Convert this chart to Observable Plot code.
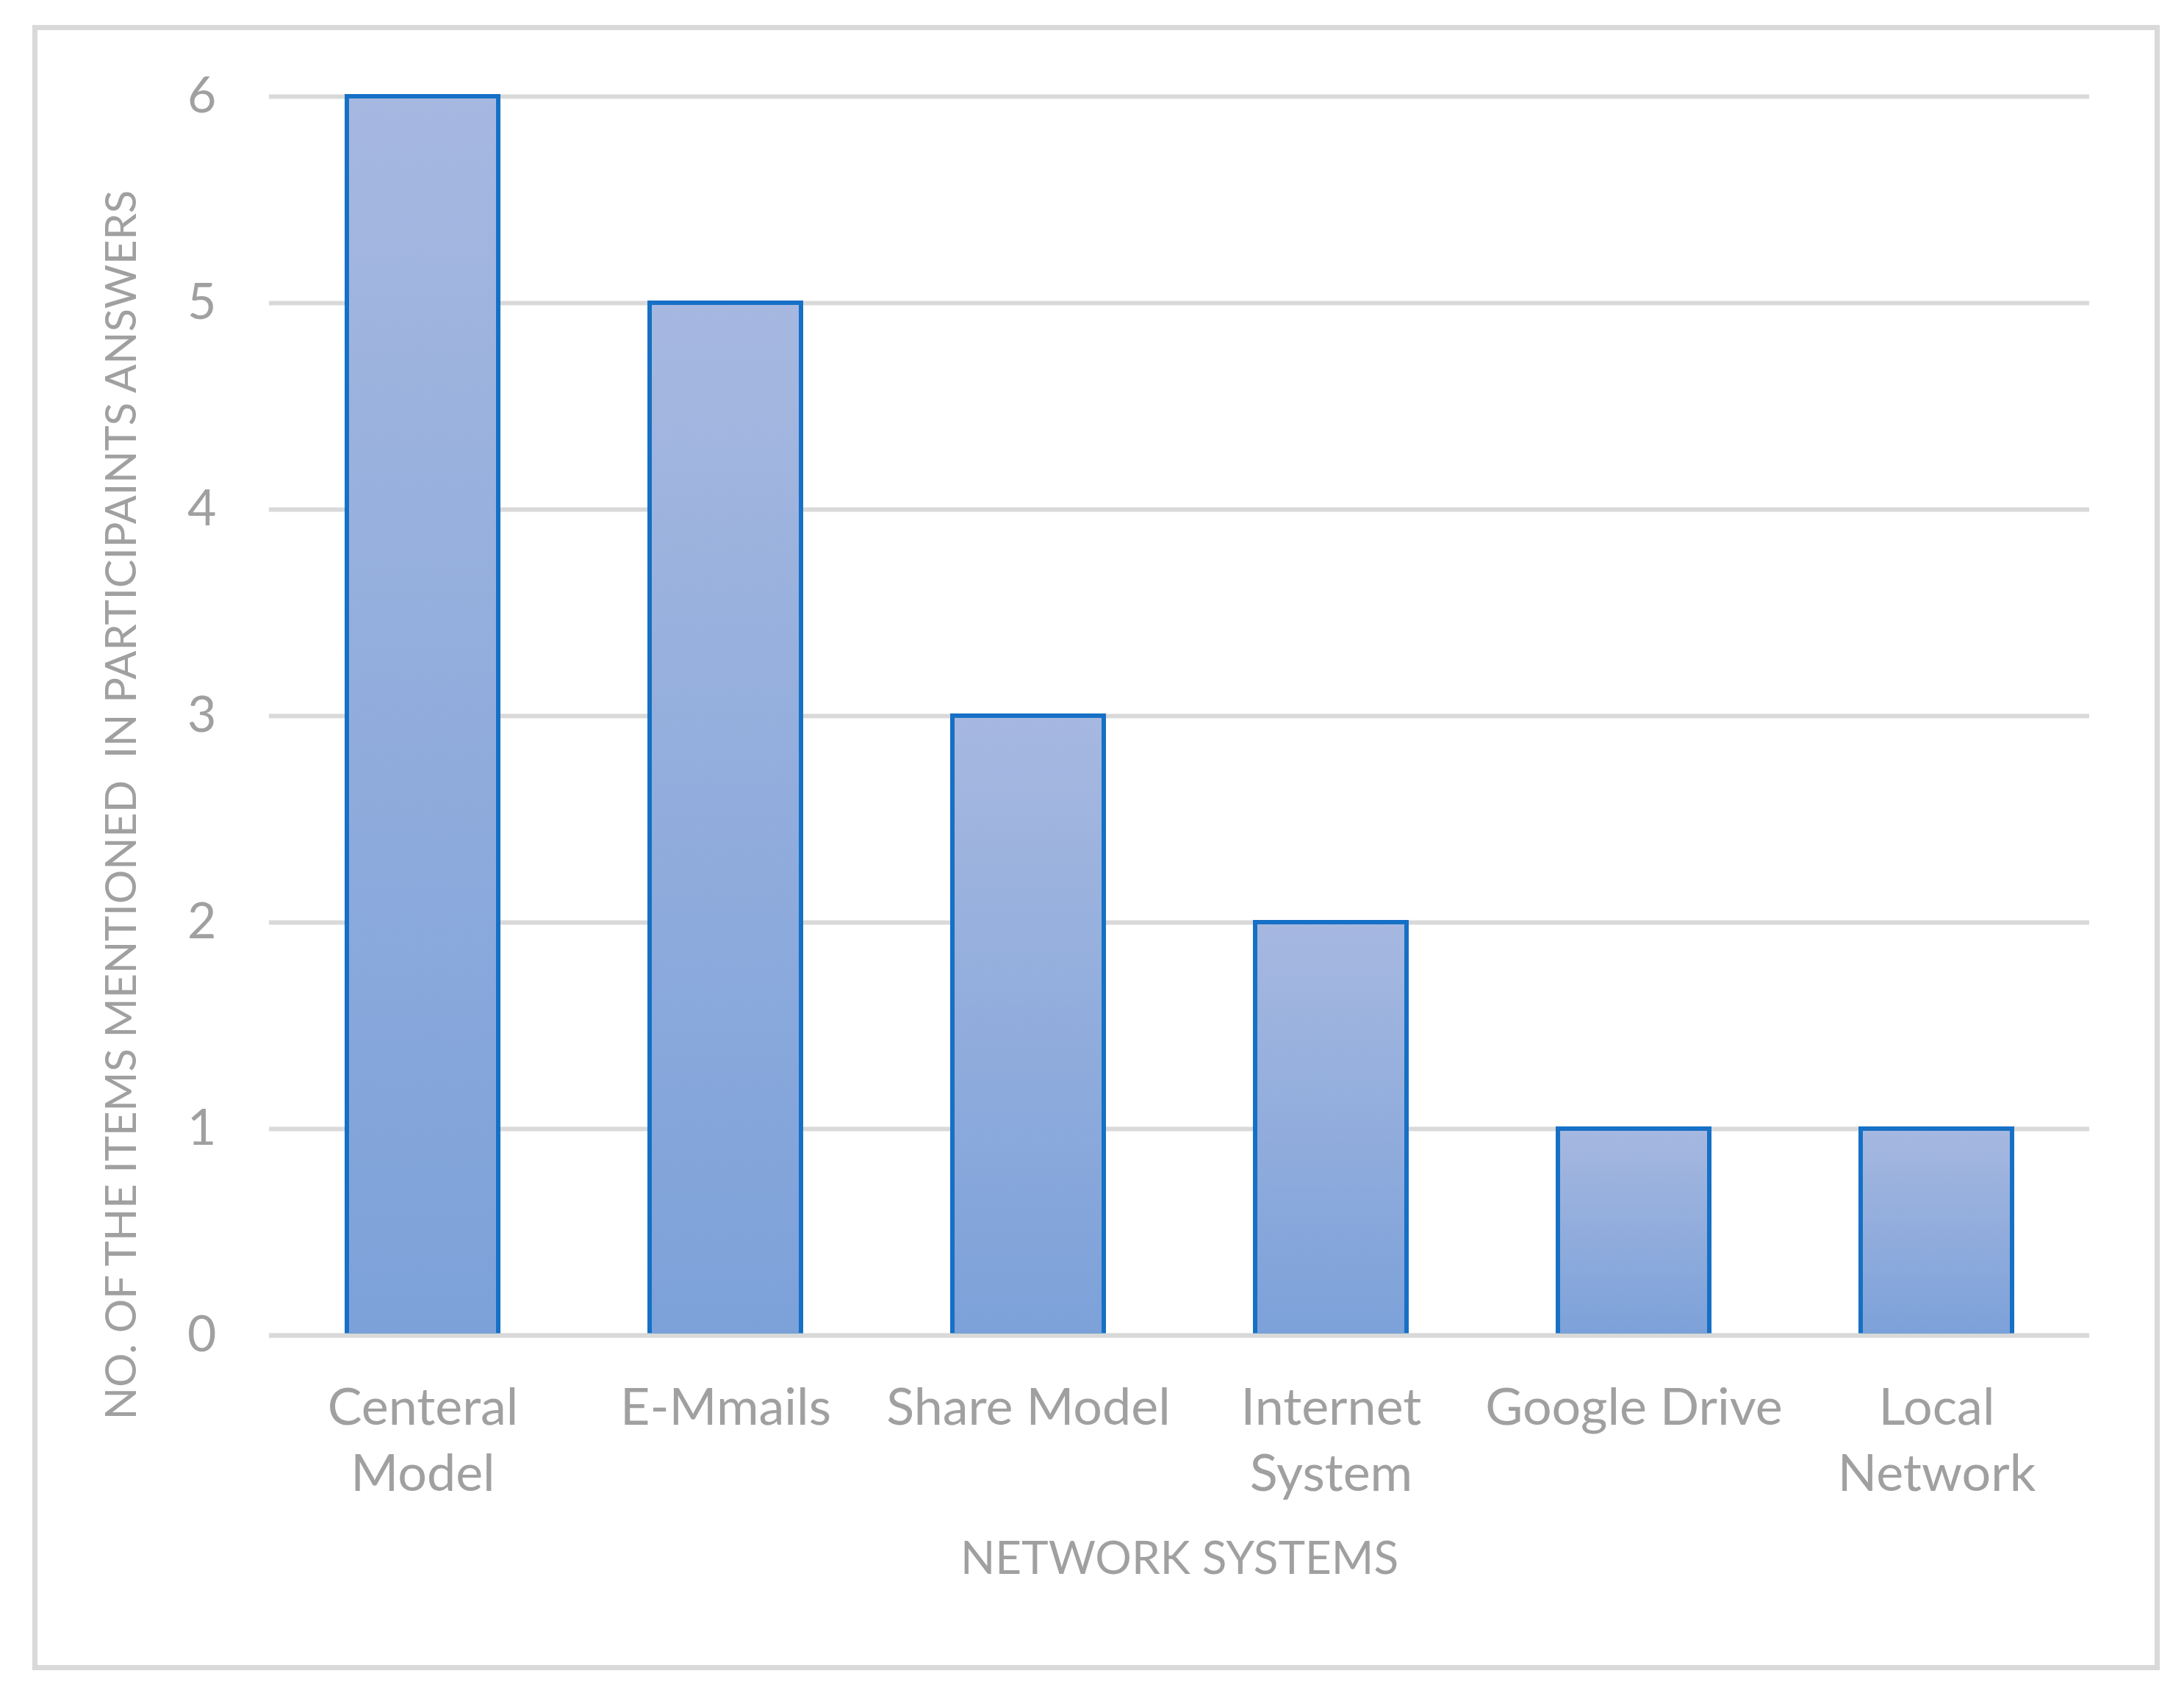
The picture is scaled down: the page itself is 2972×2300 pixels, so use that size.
<!DOCTYPE html>
<html>
<head>
<meta charset="utf-8">
<script src="https://cdn.jsdelivr.net/npm/d3@7"></script>
<script src="https://cdn.jsdelivr.net/npm/@observablehq/plot@0.6"></script>
<style>
  html, body { margin: 0; padding: 0; background: #ffffff; }
  #wrap { position: relative; width: 2972px; height: 2300px; }
  #border { position: absolute; left: 44px; top: 34px; width: 2895px; height: 2239px; box-sizing: border-box; border: 7px solid #d9d9d9; pointer-events: none; }
  #chart { position: absolute; left: 0; top: 0; }
</style>
</head>
<body>
<div id="wrap"><div id="border"></div><div id="chart"></div></div>
<script>
const categories = ["Centeral Model", "E-Mmails", "Share Model", "Internet System", "Google Drive", "Local Network"];
const values = [6, 5, 3, 2, 1, 1];
const tickLabels = ["Centeral\nModel", "E-Mmails", "Share Model", "Internet\nSystem", "Google Drive", "Local\nNetwork"];
const yTicks = [0, 1, 2, 3, 4, 5, 6];
const xTitle = "NETWORK SYSTEMS";
const yTitle = "NO. OF THE ITEMS MENTIONED  IN PARTICIPAINTS ANSWERS";

const data = categories.map((c, i) => ({category: c, value: values[i]}));
const textColor = "#a0a0a0";

const chart = Plot.plot({
  width: 2972,
  height: 2300,
  marginLeft: 366,
  marginRight: 129,
  marginTop: 131,
  marginBottom: 483,
  style: {fontFamily: "Lato, 'Open Sans', sans-serif", background: "transparent", whiteSpace: "pre"},
  x: {domain: categories, paddingInner: 0.5, paddingOuter: 0.25},
  y: {domain: [0, 6]},
  marks: [
    Plot.gridY(yTicks, {stroke: "#d9d9d9", strokeOpacity: 1, strokeWidth: 6}),
    Plot.barY(data, {x: "category", y: "value", fill: "url(#barGrad)", stroke: "#1670c5", strokeWidth: 6}),
    Plot.ruleY([0], {stroke: "#d9d9d9", strokeWidth: 6}),
    Plot.axisY(yTicks, {tickSize: 0, tickPadding: 72, fontSize: 68, fill: textColor, label: null, tickFormat: d3.format("d")}),
    Plot.axisX({tickSize: 0, tickPadding: 58, fontSize: 70, lineHeight: 1.28, fill: textColor, label: null,
      tickFormat: d => tickLabels[categories.indexOf(d)]}),
    Plot.text([xTitle], {text: d => d, frameAnchor: "bottom", dy: 324, fontSize: 62, fill: textColor}),
    Plot.text([yTitle], {text: d => d, frameAnchor: "left", textAnchor: "middle", dx: -200, dy: 121, rotate: -90, fontSize: 58, fill: textColor})
  ]
});

// gradient definition for bar fill (per-bar, top light -> bottom darker)
const ns = "http://www.w3.org/2000/svg";
const defs = document.createElementNS(ns, "defs");
const grad = document.createElementNS(ns, "linearGradient");
grad.setAttribute("id", "barGrad");
grad.setAttribute("x1", "0"); grad.setAttribute("y1", "0");
grad.setAttribute("x2", "0"); grad.setAttribute("y2", "1");
[["0", "#a6b8e0"], ["1", "#7ca1d9"]].forEach(([o, c]) => {
  const s = document.createElementNS(ns, "stop");
  s.setAttribute("offset", o);
  s.setAttribute("stop-color", c);
  grad.appendChild(s);
});
defs.appendChild(grad);
chart.insertBefore(defs, chart.firstChild);

document.getElementById("chart").appendChild(chart);
</script>
</body>
</html>
